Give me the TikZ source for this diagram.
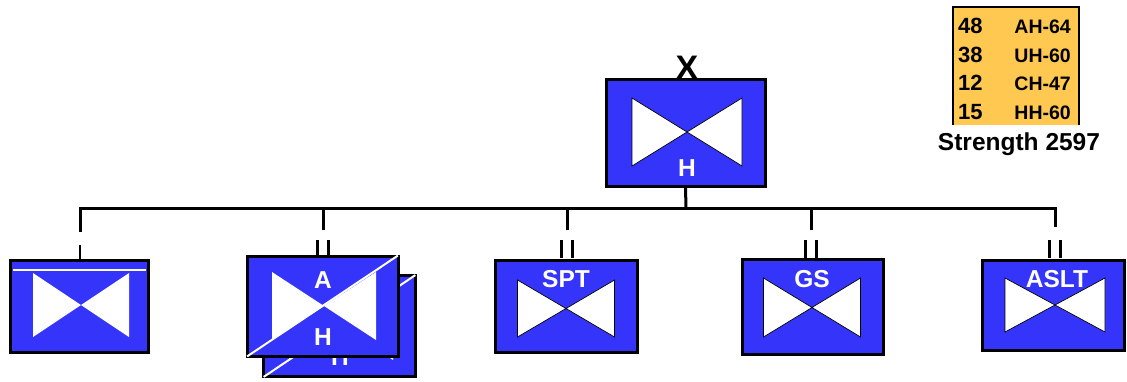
\documentclass[tikz,border=0pt]{standalone}
\usepackage{fontspec}
\setmainfont{Liberation Sans}
\definecolor{unitblue}{RGB}{52,52,250}
\definecolor{strengthgold}{RGB}{255,200,80}

\tikzset{
  unitbox/.style={draw=black, fill=unitblue, line width=3pt, rectangle, inner sep=0pt},
  busline/.style={draw=black, line width=3pt},
  echelonbar/.style={draw=black, line width=2.6pt},
  unitlabel/.style={text=white, font=\fontsize{24.5}{27}\selectfont\bfseries, inner sep=0pt, anchor=base},
  bowfill/.style={fill=white, draw=black, line width=0.7pt},
  bowplain/.style={fill=white},
  slash/.style={draw=white, line width=2pt, shorten >=2pt, shorten <=2pt},
  tablenum/.style={font=\fontsize{22}{24}\selectfont\bfseries, inner sep=0pt, anchor=base west},
  tabletype/.style={font=\fontsize{19.5}{22}\selectfont\bfseries, inner sep=0pt, anchor=base east},
}

% bow tie (aviation) symbol: #1 style, #2 centre, #3 half width, #4 half height
\newcommand\aviationtie[4]{%
  \path[#1, shift={#2}] (-#3,-#4) -- (#3,#4) -- (#3,-#4) -- (-#3,#4) -- cycle;}

\begin{document}
\begin{tikzpicture}[x=1pt, y=-1pt]
\useasboundingbox (0,0) rectangle (1127,381);

% ---- brigade headquarters ----
\node[unitbox, minimum width=159pt, minimum height=107pt] (hq) at (685.5,132.5) {};
\aviationtie{bowfill}{(687,132)}{55}{34}
\node[unitlabel] (hqlabel) at (687,176) {H};
\node[font=\fontsize{34}{34}\selectfont\bfseries, inner sep=0pt, anchor=base] (hqech) at (687,79) {X};

% ---- subordinate units ----
% company
\node[unitbox, minimum width=138pt, minimum height=92pt] (c1) at (79,306) {};
\draw[white, line width=2pt] (13,270) -- (146,270);
\aviationtie{bowplain}{(81,305)}{48}{32}

% attack helicopter battalions (stacked)
\node[unitbox, minimum width=152pt, minimum height=101pt] (c2b) at (339.5,326) {};
\aviationtie{bowplain}{(341,326)}{52}{34}
\draw[slash] (c2b.south west) -- (c2b.north east);
\node[unitlabel] at (340,365) {H};
\node[unitbox, minimum width=151pt, minimum height=100pt] (c2) at (322.5,306) {};
\aviationtie{bowplain}{(324,306)}{52}{34}
\draw[slash] (c2.south west) -- (c2.north east);
\node[unitlabel] at (323,288) {A};
\node[unitlabel] at (323,345) {H};

% support battalion
\node[unitbox, minimum width=142pt, minimum height=92pt] (c3) at (566,306) {};
\aviationtie{bowfill}{(566,308.5)}{48.5}{28.5}
\node[unitlabel] at (566,287) {SPT};

% general support battalion
\node[unitbox, minimum width=141pt, minimum height=95pt] (c4) at (812.5,306.5) {};
\aviationtie{bowfill}{(812,307.5)}{48.5}{29.5}
\node[unitlabel] at (812,287) {GS};

% assault battalion
\node[unitbox, minimum width=142pt, minimum height=90pt] (c5) at (1053,305) {};
\aviationtie{bowfill}{(1055,305)}{50}{27}
\node[unitlabel] at (1057,287) {ASLT};

% ---- echelon marks ----
\draw[echelonbar] (80,245) -- (80,259);
\foreach \x in {323,567,811,1055}{
  \draw[echelonbar] (\x-5.5,240) -- (\x-5.5,258);
  \draw[echelonbar] (\x+5.5,240) -- (\x+5.5,258);
}

% ---- connectors ----
\coordinate (bus) at (686,208);
\coordinate (c1up) at (80,232);
\coordinate (c2up) at (323,230);
\coordinate (c3up) at (567,230);
\coordinate (c4up) at (811,230);
\coordinate (c5up) at (1055,227);
\draw[busline] (hq.south) -- (bus);
\draw[busline] (c1up) |- (bus) -| (c5up);
\foreach \c in {c2up,c3up,c4up}{
  \draw[busline] (\c) -- (\c |- bus);
}

% ---- strength table ----
\node[fill=strengthgold, inner sep=0pt, minimum width=126pt, minimum height=118pt] (strength) at (1016,66) {};
\draw[line width=2.5pt] (strength.south west) |- (strength.north east) -- (strength.south east);
\node[tablenum] at (958,33) {48};
\node[tabletype] at (1071,33) {AH-64};
\node[tablenum] at (958,62) {38};
\node[tabletype] at (1071,62) {UH-60};
\node[tablenum] at (958,90.5) {12};
\node[tabletype] at (1071,90.5) {CH-47};
\node[tablenum] at (958,119) {15};
\node[tabletype] at (1071,119) {HH-60};
\node[font=\fontsize{24.5}{26}\selectfont\bfseries, inner sep=0pt, anchor=base] (strlabel) at (1019,150) {Strength 2597};
\end{tikzpicture}
\end{document}
